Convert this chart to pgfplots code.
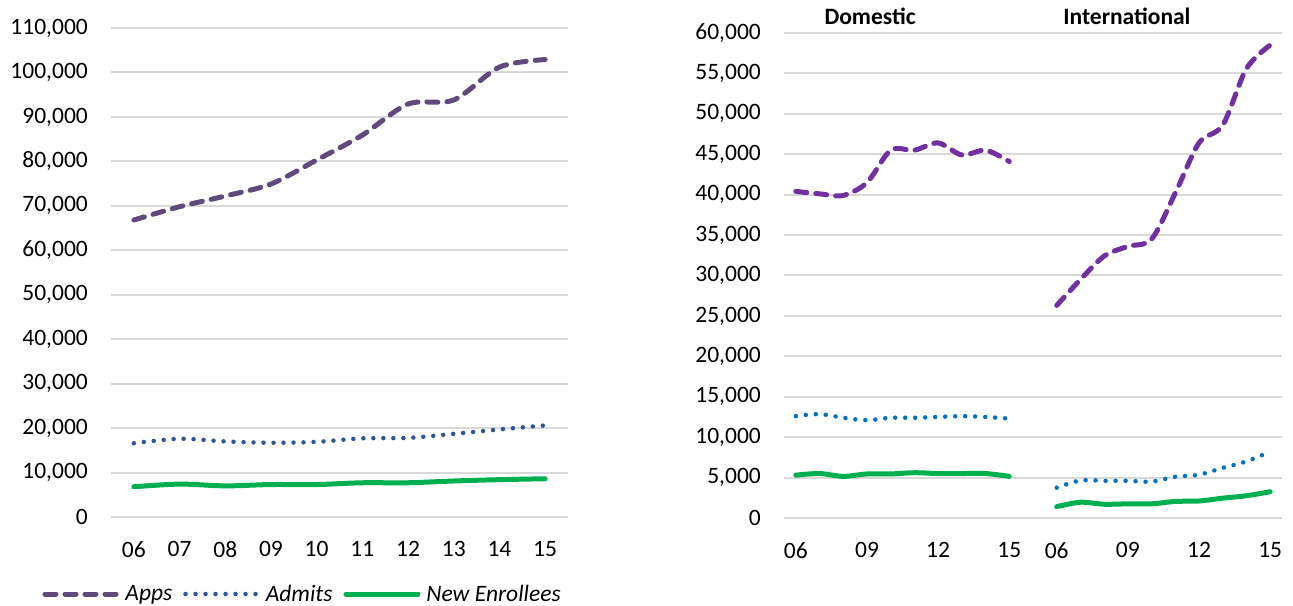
\documentclass[border=0pt]{standalone}
\usepackage{pgfplots}
\pgfplotsset{compat=1.18}
\usepackage{fontspec}
\setmainfont{Carlito}
\definecolor{appsL}{HTML}{604A7B}
\definecolor{admL}{HTML}{2F5597}
\definecolor{enr}{HTML}{00B050}
\definecolor{appsR}{HTML}{7030A0}
\definecolor{admR}{HTML}{0070C0}
\definecolor{gridc}{HTML}{D9D9D9}
\newcommand{\fs}{\fontsize{23.5bp}{28bp}\selectfont}
\begin{document}
\begin{tikzpicture}[x=1bp,y=1bp]
\path[use as bounding box] (0,0) rectangle (1293,606);
\pgfplotsset{
  base/.style={
    scale only axis, clip=false,
    axis line style={draw=none},
    major tick length=0pt,
    ymajorgrids, grid style={gridc, line width=2bp},
    tick label style={font=\fs, inner sep=0pt},
    yticklabel style={xshift=-23bp},
    xticklabel style={yshift=-24bp},
    scaled y ticks=false,
  },
  apps/.style={line width=5bp, line cap=round, dash pattern=on 11bp off 9bp, smooth},
  adm/.style={line width=4.5bp, line cap=round, dash pattern=on 0bp off 10bp, smooth},
  enrs/.style={line width=5bp, line cap=round, smooth, color=enr},
}
\begin{axis}[base, at={(111bp,89bp)}, anchor=south west, width=457bp, height=489bp,
  xmin=-0.5, xmax=9.5, ymin=0, ymax=110000,
  ytick={0,10000,20000,30000,40000,50000,60000,70000,80000,90000,100000,110000},
  yticklabels={0,{10,000},{20,000},{30,000},{40,000},{50,000},{60,000},{70,000},{80,000},{90,000},{100,000},{110,000}},
  xtick={0,...,9}, xticklabels={06,07,08,09,10,11,12,13,14,15},
  legend columns=3,
  legend style={at={(0.4170,-0.1575)}, anchor=center, draw=none, fill=none,
    font=\fs\itshape, inner sep=0pt, nodes={inner sep=0pt},
    /tikz/every odd column/.append style={column sep=6bp},
    /tikz/every even column/.append style={column sep=11bp}},
  legend image code/.code={\draw[#1] (0bp,0bp) -- (72bp,0bp);},
]
\addplot[apps, color=appsL] coordinates {(0,66800) (1,69800) (2,72200) (3,74900) (4,80300) (5,85900) (6,92900) (7,93800) (8,101200) (9,102900)};
\addlegendentry{Apps}
\addplot[adm, color=admL] coordinates {(0,16600) (1,17600) (2,17000) (3,16700) (4,16900) (5,17700) (6,17800) (7,18700) (8,19700) (9,20600)};
\addlegendentry{Admits}
\addplot[enrs] coordinates {(0,6800) (1,7400) (2,7000) (3,7300) (4,7300) (5,7700) (6,7700) (7,8100) (8,8400) (9,8600)};
\addlegendentry{New Enrollees}
\end{axis}
\begin{axis}[base, at={(784bp,88bp)}, anchor=south west, width=498bp, height=485bp,
  xmin=-0.5, xmax=20.5, ymin=0, ymax=60000,
  ytick={0,5000,10000,15000,20000,25000,30000,35000,40000,45000,50000,55000,60000},
  yticklabels={0,{5,000},{10,000},{15,000},{20,000},{25,000},{30,000},{35,000},{40,000},{45,000},{50,000},{55,000},{60,000}},
  xtick={0,3,6,9,11,14,17,20}, xticklabels={06,09,12,15,06,09,12,15},
]
\addplot[apps, color=appsR] coordinates {(0,40400) (1,40100) (2,39900) (3,41500) (4,45500) (5,45500) (6,46400) (7,44900) (8,45500) (9,44100)};
\addplot[apps, color=appsR] coordinates {(11,26300) (12,29500) (13,32400) (14,33600) (15,34500) (16,40200) (17,46400) (18,48600) (19,55600) (20,58500)};
\addplot[adm, color=admR] coordinates {(0,12600) (1,12850) (2,12400) (3,12100) (4,12400) (5,12400) (6,12500) (7,12600) (8,12500) (9,12300)};
\addplot[adm, color=admR] coordinates {(11,3750) (12,4650) (13,4600) (14,4600) (15,4500) (16,5100) (17,5350) (18,6200) (19,7000) (20,8200)};
\addplot[enrs] coordinates {(0,5300) (1,5500) (2,5150) (3,5450) (4,5450) (5,5600) (6,5500) (7,5500) (8,5500) (9,5150)};
\addplot[enrs] coordinates {(11,1400) (12,1950) (13,1700) (14,1750) (15,1750) (16,2050) (17,2100) (18,2450) (19,2750) (20,3250)};
\node[font=\fs\bfseries] at (axis cs:3.13,62100) {Domestic};
\node[font=\fs\bfseries] at (axis cs:13.96,62100) {International};
\end{axis}
\end{tikzpicture}
\end{document}
